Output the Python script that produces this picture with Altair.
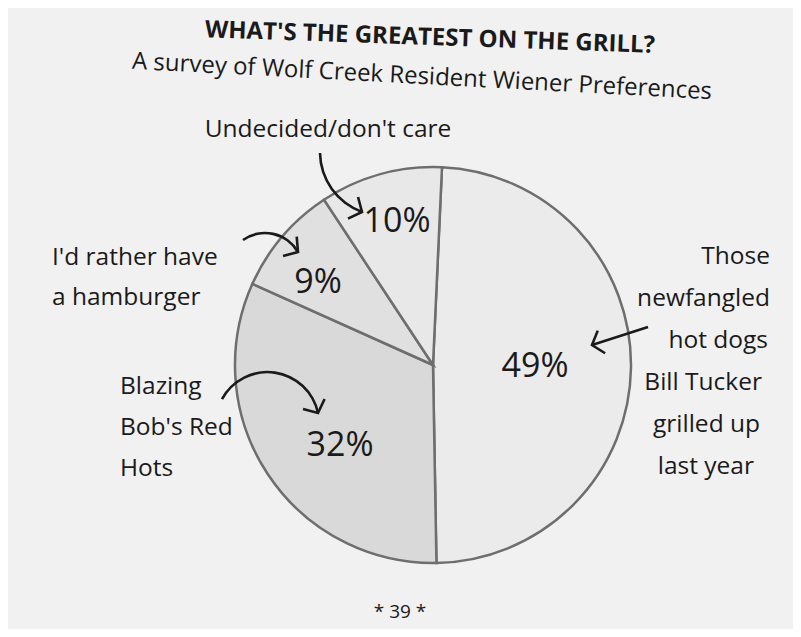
import math
import altair as alt
import pandas as pd

# ---- data ----
categories = ["Those newfangled hot dogs Bill Tucker grilled up last year",
              "Blazing Bob's Red Hots",
              "I'd rather have a hamburger",
              "Undecided/don't care"]
shares = [49, 32, 9, 10]
pct_labels = ["49%", "32%", "9%", "10%"]
title_text = "WHAT'S THE GREATEST ON THE GRILL?"
subtitle_text = "A survey of Wolf Creek Resident Wiener Preferences"
label_undecided = ["Undecided/don't care"]
label_hamburger = ["I'd rather have", "a hamburger"]
label_blazing = ["Blazing", "Bob's Red", "Hots"]
label_hotdogs = ["Those", "newfangled", "hot dogs", "Bill Tucker", "grilled up", "last year"]
footer_text = "* 39 *"

W, H = 785, 621
OFF = 8
FONT = "Open Sans"
INK = "#1a1a1a"

pie_df = pd.DataFrame({"category": categories, "share": shares,
                       "order": list(range(len(categories)))})
fills = ["#ebebeb", "#d9d9d9", "#e0e0e0", "#e8e8e8"]

cx, cy, R = 433 - OFF, 365 - OFF, 198
START = math.radians(2.6)

pie = alt.Chart(pie_df).mark_arc(
    outerRadius=R, stroke="#6e6e6e", strokeWidth=2.5
).encode(
    theta=alt.Theta("share:Q", stack=True,
                    scale=alt.Scale(range=[START, START + 2 * math.pi])),
    order=alt.Order("order:Q"),
    color=alt.Color("category:N", sort=categories,
                    scale=alt.Scale(domain=categories, range=fills), legend=None),
    x=alt.value(cx), y=alt.value(cy),
)

one = pd.DataFrame({"a": [0]})

def txt(text, x, y, size, align="center", weight="normal", angle=0, font=FONT, color=INK):
    kw = dict(text=text, align=align, baseline="middle", fontSize=size,
              font=font, fontWeight=weight, color=color)
    if angle:
        kw["angle"] = angle % 360
    return alt.Chart(one).mark_text(**kw).encode(
        x=alt.value(x - OFF), y=alt.value(y - OFF))

def arc_stroke(hx, hy, r, a0, a1, w=2.6):
    # thin circular arc used as a hand-drawn annotation arrow shaft
    return alt.Chart(one).mark_arc(
        radius=r + w / 2, radius2=r - w / 2,
        theta=math.radians(a0), theta2=math.radians(a1), color=INK
    ).encode(x=alt.value(hx - OFF), y=alt.value(hy - OFF))

HEAD = "M -0.9 0.75 L 0 0 L 0.9 0.75"

def head(x, y, ang, size=700):
    return alt.Chart(one).mark_point(
        shape=HEAD, size=size, filled=False, stroke=INK, strokeWidth=2.6,
        angle=ang % 360, opacity=1
    ).encode(x=alt.value(x - OFF), y=alt.value(y - OFF))

LS = 24.5
layers = [pie]
layers.append(txt(title_text, 430, 38, 24, weight="bold", angle=2))
layers.append(txt(subtitle_text, 422, 77, 24, angle=3))
layers.append(txt(label_undecided[0], 328, 130, LS))
for i, s in enumerate(label_hamburger):
    layers.append(txt(s, 52, 258 + i * 40, LS, align="left"))
for i, s in enumerate(label_blazing):
    layers.append(txt(s, 120, 387 + i * 41, LS, align="left"))
right_x = [770, 770, 768, 762, 760, 754]
for i, s in enumerate(label_hotdogs):
    layers.append(txt(s, right_x[i], 257 + i * 42, LS, align="right"))

pct_pos = [(535, 367), (340, 446), (318, 283), (397, 222)]
for lab, (px, py) in zip(pct_labels, pct_pos):
    layers.append(txt(lab, px, py, 34))

# annotation arrows
layers.append(arc_stroke(383.6, 152.1, 63.6, 199.8, 269.2))
layers.append(head(362, 212, 115))
layers.append(arc_stroke(265.0, 271.1, 38.1, 324.7, 419.9))
layers.append(head(298, 252, 125))
layers.append(arc_stroke(267.4, 423.9, 51.8, 298.7, 437.8))
layers.append(head(318, 413, 155))
layers.append(alt.Chart(one).mark_rule(color=INK, strokeWidth=2.6).encode(
    x=alt.value(648 - OFF), y=alt.value(327 - OFF),
    x2=alt.value(592 - OFF), y2=alt.value(345 - OFF)))
layers.append(head(592, 345, 252))

layers.append(txt(footer_text, 400, 612, 19))

chart = alt.layer(*layers).properties(
    width=W, height=H, padding=0, autosize="none", background="#f1f1f1"
).configure_view(stroke=None)

chart.save("out.html", embed_options={"renderer": "svg", "actions": False})
